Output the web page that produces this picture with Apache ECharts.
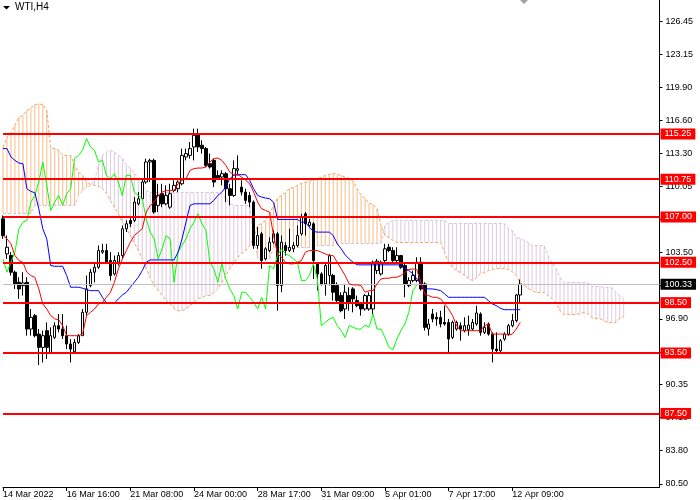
<!DOCTYPE html>
<html><head><meta charset="utf-8">
<script src="https://cdn.jsdelivr.net/npm/echarts@6/dist/echarts.min.js"></script>
<style>html,body{margin:0;padding:0;background:#fff}#c{width:700px;height:500px}</style>
</head><body><div id="c"></div><script>
const xTickLabels = ["14 Mar 2022","16 Mar 16:00","21 Mar 08:00","24 Mar 00:00","28 Mar 17:00","31 Mar 09:00","5 Apr 01:00","7 Apr 17:00","12 Apr 09:00"];
const priceTicks = [126.45,123.15,119.90,116.60,113.30,110.05,106.75,103.50,100.20,96.90,93.60,90.35,87.10,83.80,80.50];
const levels = [115.25,110.75,107.00,102.50,98.50,93.50,87.50];
const lastPrice = 100.33;

// [open, close, low, high]
const ohlc = [
[106.82,105.16,104.83,107.15],[103.34,104.00,102.84,105.16],[103.17,101.52,101.19,103.51],[101.52,100.36,99.86,101.68],
[100.52,99.86,98.87,101.02],[100.19,100.46,99.20,101.52],[100.52,95.88,95.22,101.02],[95.88,97.04,95.22,97.87],
[97.21,95.22,95.05,97.37],[95.38,94.06,92.30,95.88],[94.06,95.22,92.57,95.72],[95.72,94.06,92.90,96.54],
[93.56,95.22,93.39,96.05],[95.05,96.21,94.89,96.54],[96.21,95.88,95.55,97.37],[95.88,95.22,94.89,97.37],
[95.22,94.39,93.89,96.21],[94.39,93.89,92.57,94.89],[93.63,94.55,93.56,94.89],[94.55,95.22,94.39,95.38],
[95.22,97.54,95.22,97.87],[97.54,99.86,97.21,101.19],[100.19,101.52,100.03,101.85],[101.52,102.01,100.52,102.51],
[102.01,103.67,101.85,104.17],[103.51,103.67,103.34,104.34],[103.67,102.51,102.35,104.34],[102.68,101.19,100.69,103.51],
[101.35,102.68,101.19,103.17],[102.51,103.17,102.18,103.51],[103.17,105.83,102.84,106.16],[105.83,106.33,105.50,106.66],
[106.66,106.33,106.00,106.99],[106.66,108.48,106.49,108.98],[108.31,108.81,108.15,109.47],[108.81,110.47,108.65,110.80],
[110.47,112.46,110.30,112.79],[112.46,112.62,110.47,112.79],[112.62,107.49,107.32,112.79],[108.15,109.14,107.49,110.30],
[109.31,108.31,107.98,110.30],[108.31,109.14,108.15,110.14],[107.98,109.31,107.82,110.30],[109.64,110.14,109.47,110.64],
[109.81,110.47,109.47,110.64],[110.30,113.12,110.14,113.79],[112.96,113.29,112.62,113.79],[113.12,113.79,112.79,114.45],
[113.95,115.11,112.62,115.77],[115.28,113.95,113.45,115.77],[114.12,113.79,113.29,114.61],[113.79,112.13,111.96,113.95],
[112.29,111.96,111.80,113.29],[112.62,110.47,109.97,112.79],[111.13,110.87,110.80,111.63],[110.97,111.30,110.14,111.63],
[111.30,109.81,108.48,111.46],[109.81,109.14,108.15,110.30],[109.14,111.80,108.98,112.62],[111.63,111.80,111.13,113.12],
[109.97,109.47,109.14,110.64],[109.47,108.65,108.31,109.81],[109.14,108.48,107.98,109.47],[108.48,104.17,103.84,108.65],
[104.17,105.16,103.84,106.00],[105.33,102.68,101.85,105.50],[102.84,103.84,102.68,104.00],[103.67,104.50,103.51,104.99],
[104.50,105.33,104.34,105.66],[105.33,100.19,97.70,105.50],[100.19,104.50,99.53,105.16],[104.17,103.67,103.17,104.50],
[103.67,104.00,103.51,105.83],[103.84,104.17,103.51,104.50],[104.17,105.16,104.00,106.16],[105.33,106.99,105.16,107.32],
[107.32,106.33,105.16,107.49],[106.16,106.49,106.00,106.82],[106.33,102.68,100.85,106.49],[102.35,101.35,99.69,102.51],
[101.35,100.36,100.19,101.52],[100.36,102.18,99.20,102.35],[101.19,103.17,100.19,103.34],[101.19,99.53,98.70,101.35],
[100.19,98.70,98.53,100.52],[99.20,97.70,97.54,99.53],[97.87,99.53,96.88,100.36],[99.20,98.53,97.70,100.03],
[99.86,98.87,97.54,100.03],[98.70,98.20,98.04,99.20],[98.37,97.87,97.21,98.53],[97.87,99.20,97.70,99.36],
[97.87,99.20,97.70,99.53],[97.87,102.51,97.37,102.68],[101.68,102.61,101.35,102.84],[101.35,102.51,101.19,102.68],
[102.68,103.84,102.51,104.34],[104.00,103.67,103.51,104.34],[103.67,102.68,102.51,104.00],[102.68,103.17,102.51,104.00],
[103.17,102.01,101.85,103.24],[102.18,100.36,99.03,102.35],[100.19,100.69,100.03,101.02],[100.69,101.19,100.52,101.68],
[100.69,102.51,100.52,103.01],[102.51,99.86,99.69,103.01],[100.36,96.05,95.72,100.52],[95.88,96.38,95.22,96.88],
[97.37,96.88,96.54,97.87],[97.04,96.88,96.21,97.54],[97.04,96.38,96.05,97.70],[96.54,96.38,96.21,98.20],
[96.54,94.89,93.39,96.88],[95.05,96.54,94.89,96.71],[95.88,96.54,95.72,96.71],[96.21,95.88,94.72,96.54],
[95.72,96.21,95.55,97.04],[95.82,96.28,95.22,97.21],[95.88,96.54,95.72,96.88],[96.38,97.47,96.21,98.20],
[97.37,95.55,95.22,97.54],[95.55,96.05,95.38,96.54],[96.38,95.38,95.22,96.54],[95.38,93.89,92.57,95.55],
[93.89,93.72,93.56,95.55],[93.72,94.72,93.56,94.89],[94.89,95.38,94.72,95.55],[95.38,96.21,95.22,96.38],
[96.21,96.71,96.05,97.37],[96.71,99.26,96.54,99.36],[99.26,100.33,98.53,100.79]
];

const tenkan = [
105.16,104.83,104.34,103.17,102.68,102.51,101.52,101.19,101.02,99.86,
98.37,97.87,97.21,96.88,96.81,96.21,95.22,95.22,95.22,95.22,
95.38,97.21,97.54,97.87,98.37,98.53,99.03,99.53,100.52,101.85,
102.84,103.67,104.50,105.16,105.50,105.83,107.49,108.15,108.48,109.14,
109.47,109.64,109.64,109.64,110.30,110.64,110.80,111.63,111.80,111.86,
111.86,111.96,112.46,112.79,112.86,112.62,112.13,111.46,111.20,111.20,
110.97,110.64,110.30,109.47,108.48,107.82,107.65,107.49,105.16,103.34,
103.01,102.51,102.35,102.35,102.51,102.68,103.51,103.67,103.67,103.67,
103.51,103.34,103.17,103.17,102.51,101.85,101.19,100.36,100.26,100.26,
100.19,99.53,99.69,99.69,100.36,100.85,100.92,100.92,101.02,101.02,
101.19,101.52,101.78,101.85,101.78,100.52,99.36,99.20,99.03,99.03,
98.87,98.37,97.87,97.21,96.21,95.72,95.72,95.72,95.72,95.72,
95.72,96.21,96.38,95.38,95.38,95.38,95.38,95.28,95.38,95.88,
96.54];

const kijun = [
113.79,113.79,112.96,112.62,112.36,112.29,109.81,109.54,109.41,107.82,
105.83,104.83,102.18,102.11,102.11,102.11,101.19,100.03,100.03,100.03,
99.93,99.79,99.69,99.69,99.69,99.03,98.47,98.47,98.47,98.87,
99.26,99.53,100.03,100.52,101.02,101.68,102.51,102.74,102.74,102.74,
102.74,102.74,102.74,102.74,103.51,104.83,106.49,108.15,108.31,108.31,
108.31,108.31,108.31,108.65,109.14,109.47,109.97,110.80,111.13,111.20,
111.20,111.20,110.64,109.81,109.14,108.98,108.88,108.81,108.48,106.76,
106.76,106.76,106.76,106.76,106.76,106.49,106.49,106.00,105.57,105.50,
105.50,105.50,105.50,105.16,104.34,103.84,103.24,102.84,102.51,102.25,
102.25,102.25,102.25,102.25,102.25,102.25,102.25,102.25,102.25,102.25,
102.25,101.92,101.68,101.35,100.85,100.36,99.93,99.86,99.86,99.79,
99.69,99.36,99.03,99.03,99.03,99.03,99.03,99.03,99.03,99.03,
99.03,99.03,98.70,98.37,98.20,97.94,97.80,97.80,97.80,97.80,
97.80];

const chikou = [
102.84,101.52,102.51,103.51,105.83,106.49,106.66,108.48,109.14,110.47,
112.46,110.14,107.65,108.48,109.14,108.15,109.31,109.81,112.79,113.12,
113.62,114.78,113.95,113.62,112.46,112.62,111.13,110.80,111.30,110.47,
109.14,111.13,111.13,109.47,109.14,108.81,106.82,105.50,104.83,102.84,
103.84,105.16,104.83,100.52,103.51,104.17,104.83,105.83,106.49,107.32,
106.33,105.66,102.51,101.85,100.52,102.35,100.85,99.86,99.20,97.87,
99.53,99.53,99.03,98.53,97.87,99.03,97.87,102.18,101.85,103.17,
103.84,103.34,103.17,102.84,102.51,100.69,100.69,101.19,102.35,100.85,
96.21,96.54,96.88,97.04,96.21,95.72,95.05,96.21,96.05,95.88,
95.88,96.28,96.05,97.37,95.88,95.88,95.05,94.06,93.82,94.89,
95.72,96.38,97.54,99.69,100.26];

const spanA = [
113.92,114.91,115.31,116.11,116.90,117.10,117.60,117.80,118.19,118.19,
118.19,117.60,113.82,113.82,113.62,113.12,113.12,113.12,112.13,111.43,
111.13,110.44,110.24,110.14,110.04,109.84,109.34,108.65,107.95,107.35,
106.46,105.86,105.16,104.47,103.67,102.88,101.88,100.99,100.19,99.69,
99.20,98.70,98.40,97.90,97.70,97.70,97.90,98.20,98.50,98.90,
99.00,99.20,99.20,99.50,99.89,100.49,101.19,101.88,102.48,102.98,
103.37,103.67,104.17,104.87,106.16,106.36,106.66,107.35,108.15,108.85,
109.14,109.44,109.84,109.94,110.14,110.34,110.44,110.54,110.64,110.84,
110.93,111.13,111.23,111.33,111.23,111.13,110.93,110.84,110.54,109.84,
109.14,108.85,108.35,108.25,107.85,106.16,105.16,104.97,104.67,104.47,
104.47,104.47,104.47,104.47,104.47,104.47,104.47,104.47,104.47,104.47,
104.47,103.47,102.48,101.98,101.68,101.48,101.19,100.89,100.69,100.99,
101.38,101.48,101.68,101.78,101.88,101.88,101.88,101.78,101.58,101.19,
100.49,100.19,99.89,99.69,99.50,99.50,99.50,99.20,98.90,98.40,
97.70,97.31,97.31,97.31,97.31,97.41,97.51,97.41,97.01,96.91,
96.91,96.71,96.51,96.51,96.51,96.91,97.11];

const spanB = [
107.35,107.35,107.35,107.35,107.35,107.35,107.35,107.35,108.15,108.15,
108.15,108.15,108.15,108.15,108.15,108.15,108.15,108.15,108.15,109.14,
109.64,109.94,110.14,110.64,112.13,113.12,113.42,113.62,113.42,113.12,
112.82,112.13,111.83,111.33,110.84,110.14,109.64,109.44,109.44,109.44,
109.44,109.44,109.44,109.44,109.44,109.44,109.44,109.44,109.44,109.44,
109.44,109.44,109.44,109.44,109.44,109.34,108.85,108.35,108.15,108.15,
108.15,108.15,108.15,105.16,102.88,102.88,102.88,102.88,103.97,103.97,
103.97,103.97,103.97,103.97,103.97,103.97,103.97,103.97,103.97,104.17,
104.17,104.17,104.17,104.17,104.37,104.37,104.37,104.37,104.37,104.37,
104.37,104.37,104.37,104.37,104.37,104.37,106.16,106.46,106.66,106.66,
106.66,106.66,106.66,106.66,106.66,106.66,106.66,106.66,106.66,106.66,
106.66,106.66,106.36,106.36,106.36,106.36,106.36,106.36,106.36,106.36,
106.36,106.36,106.36,106.36,106.36,106.36,106.36,105.86,105.66,104.97,
104.87,104.67,104.47,104.17,104.17,104.17,104.17,103.18,102.48,101.88,
100.99,100.49,100.49,100.49,100.49,100.49,100.49,100.49,100.09,100.09,
100.09,99.99,99.99,99.99,99.50,99.20,98.90];

const SLOTS = 166;
const categories = Array.from({length: SLOTS}, (_, i) => String(i));

// cloud as thin stacked columns between the two spans
// (A above B -> sandy brown, B above A -> thistle)
const cloudBase = spanA.map((a, i) => Math.min(a, spanB[i]));
const cloudUp = spanA.map((a, i) => a >= spanB[i] ? +(a - spanB[i]).toFixed(2) : 0);
const cloudDown = spanA.map((a, i) => a < spanB[i] ? +(spanB[i] - a).toFixed(2) : 0);

const FONT = 'Liberation Sans';
const boxLabel = (txt, bg) => ({
  show: true, position: 'end', distance: 1, formatter: txt,
  backgroundColor: bg, color: '#fff', padding: [1, 4, 0, 4],
  fontSize: 9, fontFamily: FONT, lineHeight: 10
});
const levelLines = levels.map(v => ({
  yAxis: v, lineStyle: {color: '#ff0000', width: 2, type: 'solid'},
  label: boxLabel(v.toFixed(2), '#ff0000')
}));
levelLines.push({
  yAxis: lastPrice, lineStyle: {color: '#c0c0c0', width: 1, type: 'solid'},
  label: boxLabel(lastPrice.toFixed(2), '#000000')
});

const chart = echarts.init(document.getElementById('c'), null, {renderer: 'canvas'});
chart.setOption({
  animation: false,
  backgroundColor: '#ffffff',
  grid: {left: -0.5, right: 40.5, top: 0, bottom: 13, containLabel: false},
  xAxis: {
    type: 'category', data: categories, boundaryGap: false,
    axisLine: {show: true, lineStyle: {color: '#000', width: 1}},
    axisTick: {show: true, length: 4, lineStyle: {color: '#000'},
      interval: (idx) => idx % 16 === 0 && idx / 16 < xTickLabels.length},
    axisLabel: {show: true, color: '#000', fontSize: 9, fontFamily: FONT, margin: 3, align: 'left',
      interval: (idx) => idx % 16 === 0 && idx / 16 < xTickLabels.length,
      formatter: (v, idx) => xTickLabels[Math.round(Number(v) / 16)] || ''},
    splitLine: {show: false}
  },
  yAxis: {
    type: 'value', position: 'right', min: 80.20, max: 128.54, scale: true,
    axisLine: {show: true, lineStyle: {color: '#000', width: 1}},
    axisTick: {show: true, length: 3, inside: false, lineStyle: {color: '#000'}, customValues: priceTicks},
    axisLabel: {show: true, color: '#000', fontSize: 9, fontFamily: FONT, margin: 6,
      customValues: priceTicks, formatter: v => Number(v).toFixed(2)},
    splitLine: {show: false}
  },
  graphic: [
    {type: 'polygon', shape: {points: [[3, 6], [10, 6], [6.5, 9.5]]}, style: {fill: '#000'}},
    {type: 'text', left: 15, top: 2, style: {text: 'WTI,H4', fill: '#000', font: '10px "Liberation Sans"'}},
    {type: 'polygon', shape: {points: [[520, 0], [528, 0], [524, 4]]}, style: {fill: '#a0a0a0'}}
  ],
  series: [
    {name: 'cloudBase', type: 'bar', stack: 'cloud', z: 1, data: cloudBase, barWidth: 1, silent: true,
      itemStyle: {color: 'rgba(0,0,0,0)'}},
    {name: 'cloudUp', type: 'bar', stack: 'cloud', z: 1, data: cloudUp, barWidth: 1, silent: true,
      itemStyle: {color: '#f4a460', opacity: 0.75}},
    {name: 'cloudDown', type: 'bar', stack: 'cloud', z: 1, data: cloudDown, barWidth: 1, silent: true,
      itemStyle: {color: '#d8bfd8', opacity: 0.85}},
    {name: 'Senkou A', type: 'line', z: 2, data: spanA, symbol: 'none', silent: true,
      lineStyle: {color: '#f4a460', width: 1, type: [3, 2]}},
    {name: 'Senkou B', type: 'line', z: 2, data: spanB, symbol: 'none', silent: true,
      lineStyle: {color: '#d8bfd8', width: 1, type: [3, 2]}},
    {name: 'WTI', type: 'candlestick', z: 3, data: ohlc, barWidth: 3, silent: true,
      itemStyle: {color: '#ffffff', color0: '#000000', borderColor: '#000000', borderColor0: '#000000', borderWidth: 1}},
    {name: 'Chikou', type: 'line', z: 4, data: chikou, symbol: 'none', silent: true,
      lineStyle: {color: '#00ff00', width: 1}},
    {name: 'Kijun', type: 'line', z: 4, data: kijun, symbol: 'none', silent: true,
      lineStyle: {color: '#0000ff', width: 1}},
    {name: 'Tenkan', type: 'line', z: 5, data: tenkan, symbol: 'none', silent: true,
      lineStyle: {color: '#ff0000', width: 1},
      markLine: {silent: true, symbol: ['none', 'none'], animation: false, data: levelLines}}
  ]
});
</script></body></html>
